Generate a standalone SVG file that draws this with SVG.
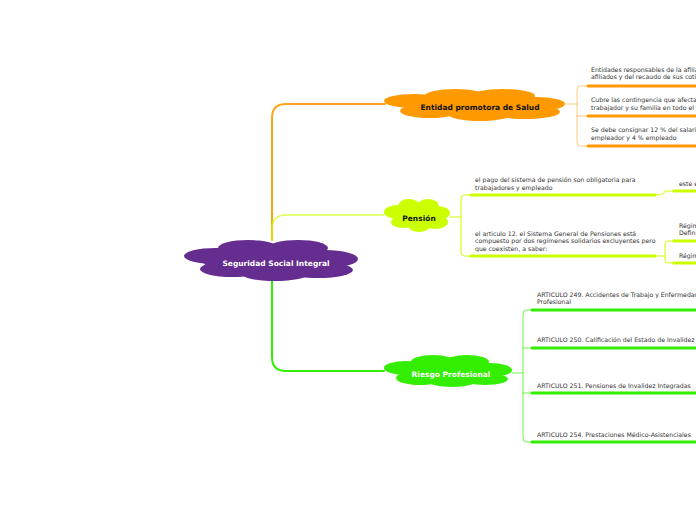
<svg xmlns="http://www.w3.org/2000/svg" width="696" height="520" viewBox="0 0 696 520">
<style>
text{font-family:Verdana,"DejaVu Sans",sans-serif;font-size:6.2px;fill:#333}
.t{font-weight:bold;font-size:7.5px;text-anchor:middle}
.o{stroke:#ff9900;fill:none}
.y{stroke:#ccff00;fill:none}
.g{stroke:#33ee00;fill:none}
</style>
<rect width="696" height="520" fill="#fff"/>
<g id="connectors" stroke-linecap="round">
<path class="o" stroke-width="2" d="M272 240 V118 Q272 104 286 104 H385" opacity="0.9"/>
<path class="y" stroke-width="1.5" d="M272 240 V229 Q272 215 286 215 H384" opacity="0.7"/>
<path class="g" stroke-width="2" d="M272 281 V357 Q272 371 286 371 H384"/>
<path class="o" stroke-width="1" opacity="0.5" d="M565 104 H577 M587 86 H580 Q577 86 577 90 V142 Q577 146 580 146 H587 M577 116 H587"/>
<g class="o" stroke-width="3"><path d="M588 86 H696 M588 116 H696 M588 146 H696"/></g>
<path class="y" stroke-width="1" d="M450 217 H461 M470 195 H464 Q461 195 461 199 V252 Q461 256 464 256 H470"/>
<g class="y" stroke-width="3"><path d="M471 195 H655 M471 256 H655 M674 191 H696 M674 241 H696 M674 263 H696"/></g>
<path class="y" stroke-width="1" d="M655 195 Q665 195 665 191 H673 M655 256 H665 M673 241 H668 Q665 241 665 244 V260 Q665 263 668 263 H673"/>
<path class="g" stroke-width="1" opacity="0.7" d="M512 373 H523 M531 310 H526 Q523 310 523 314 V438 Q523 442 526 442 H531 M523 348 H531 M523 393 H531"/>
<g class="g" stroke-width="3"><path d="M532 310 H696 M532 348 H696 M532 393 H696 M532 442 H696"/></g>
</g>
<g id="central" fill="#662d91">
<ellipse cx="272" cy="262" rx="68" ry="14"/><ellipse cx="216" cy="256" rx="32" ry="8"/><ellipse cx="325" cy="259" rx="33" ry="9"/><ellipse cx="248" cy="248" rx="30" ry="8"/><ellipse cx="298" cy="248" rx="30" ry="8"/><ellipse cx="232" cy="269" rx="32" ry="8"/><ellipse cx="318" cy="270" rx="35" ry="8"/><ellipse cx="275" cy="274" rx="33" ry="7"/>
<text x="276" y="266" class="t" style="fill:#fff">Seguridad Social Integral</text>
</g>
<g id="eps" fill="#ff9900">
<ellipse cx="475" cy="105" rx="72" ry="11"/><ellipse cx="414" cy="101" rx="30" ry="7"/><ellipse cx="535" cy="104" rx="30" ry="7"/><ellipse cx="455" cy="96" rx="30" ry="7"/><ellipse cx="503" cy="96" rx="32" ry="7"/><ellipse cx="430" cy="111" rx="30" ry="7"/><ellipse cx="525" cy="112" rx="35" ry="7"/><ellipse cx="480" cy="114" rx="32" ry="7"/>
<text x="480" y="110" class="t" style="fill:#111">Entidad promotora de Salud</text>
</g>
<g id="pension" fill="#ccff00">
<ellipse cx="418" cy="215" rx="26" ry="10"/><ellipse cx="398" cy="212" rx="14" ry="7"/><ellipse cx="437" cy="213" rx="13" ry="7"/><ellipse cx="409" cy="206" rx="11" ry="7"/><ellipse cx="428" cy="206" rx="11" ry="7"/><ellipse cx="403" cy="222" rx="12" ry="6"/><ellipse cx="435" cy="222" rx="13" ry="7"/><ellipse cx="419" cy="226" rx="11" ry="6"/>
<text x="419" y="221" class="t" style="fill:#111">Pensión</text>
</g>
<g id="riesgo" fill="#33ee00">
<ellipse cx="450" cy="371" rx="52" ry="11"/><ellipse cx="406" cy="368" rx="22" ry="7"/><ellipse cx="490" cy="370" rx="22" ry="7"/><ellipse cx="433" cy="362" rx="22" ry="7"/><ellipse cx="467" cy="362" rx="22" ry="7"/><ellipse cx="420" cy="378" rx="24" ry="7"/><ellipse cx="485" cy="379" rx="23" ry="6"/><ellipse cx="452" cy="381" rx="24" ry="6"/>
<text x="451" y="377" class="t" style="fill:#fff">Riesgo Profesional</text>
</g>
<g id="eps-children">
<text x="591" y="72">Entidades responsables de la afiliación, el registro de los</text>
<text x="591" y="79">afiliados y del recaudo de sus cotizaciones</text>
<text x="591" y="102">Cubre las contingencia que afectan la salud del</text>
<text x="591" y="110">trabajador y su familia en todo el territorio</text>
<text x="591" y="132">Se debe consignar 12 % del salario: 8 % el</text>
<text x="591" y="140">empleador y 4 % empleado</text>
</g>
<g id="pension-children">
<text x="475" y="182">el pago del sistema de pensión son obligatoria para</text>
<text x="475" y="190">trabajadores y empleado</text>
<text x="475" y="236">el articulo 12. el Sistema General de Pensiones está</text>
<text x="475" y="243">compuesto por dos regímenes solidarios excluyentes pero</text>
<text x="475" y="251">que coexisten, a saber:</text>
<text x="679" y="186">este es</text>
<text x="679" y="228">Régimen</text>
<text x="679" y="235">Definido</text>
<text x="679" y="258">Régimen</text>
</g>
<g id="riesgo-children">
<text x="537" y="297">ARTICULO 249. Accidentes de Trabajo y Enfermedad</text>
<text x="537" y="304">Profesional</text>
<text x="537" y="342">ARTICULO 250. Calificación del Estado de Invalidez</text>
<text x="537" y="388">ARTICULO 251. Pensiones de Invalidez Integradas</text>
<text x="537" y="437">ARTICULO 254. Prestaciones Médico-Asistenciales</text>
</g>
</svg>
